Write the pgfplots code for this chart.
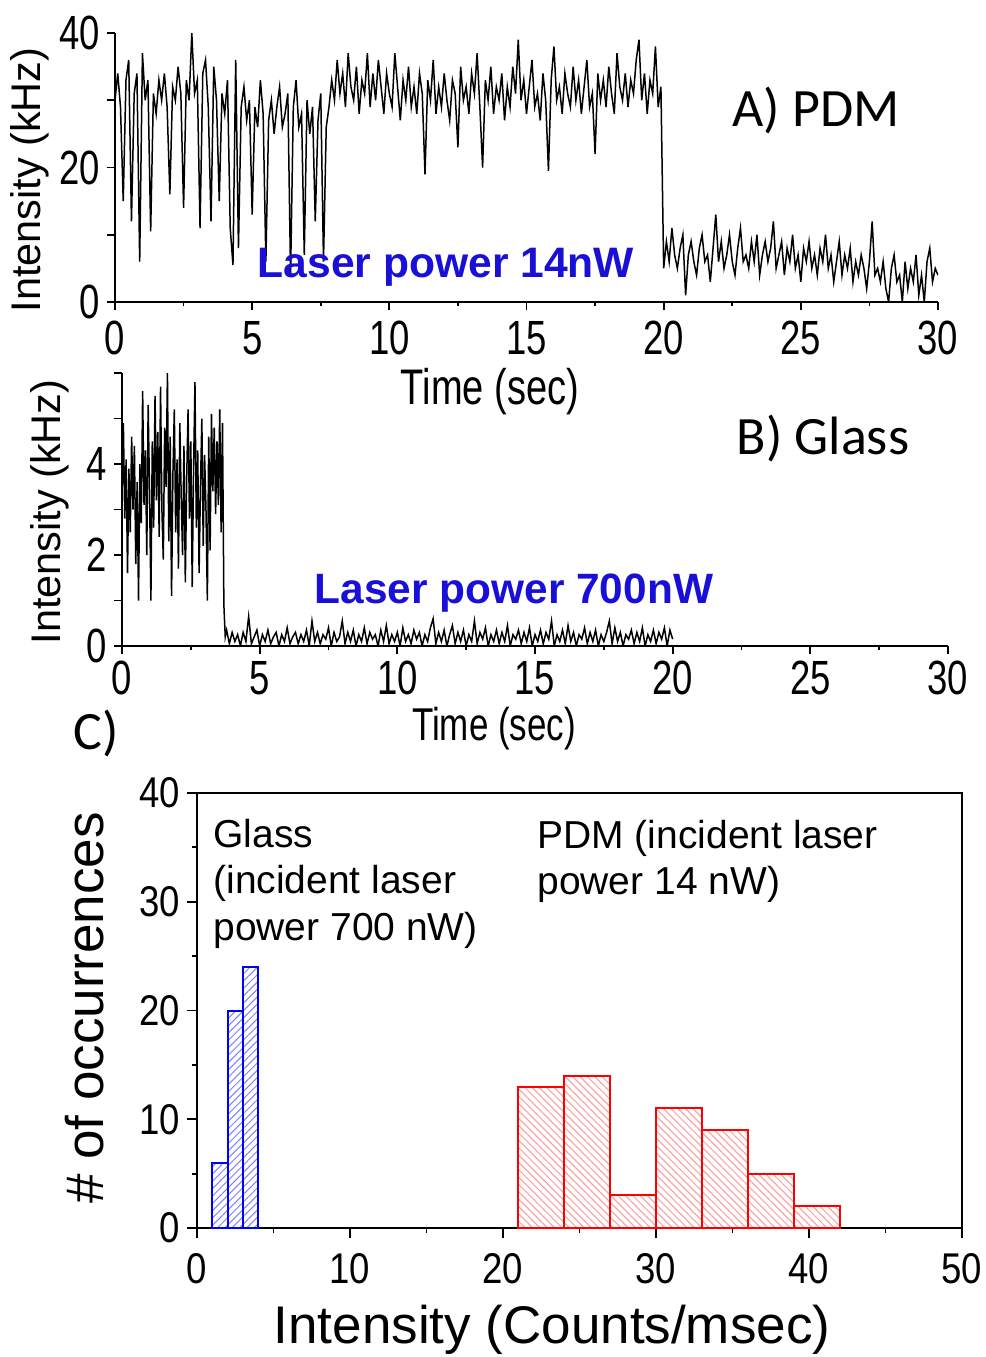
\documentclass[border=0pt]{standalone}
\usepackage{fontspec}
\setmainfont{Liberation Sans}
\newfontfamily\nar[FakeStretch=0.76]{Liberation Sans}
\newfontfamily\narc[FakeStretch=0.85]{Liberation Sans}
\newfontfamily\calfont{Carlito}
\usepackage{pgfplots}
\pgfplotsset{compat=1.18}
\usetikzlibrary{patterns.meta}
\definecolor{lblue}{RGB}{25,15,215}
\newcommand\fs[1]{\fontsize{#1}{#1}\selectfont}
\pgfplotsset{common/.style={scale only axis, anchor=south west,
  axis line style={line width=1pt}, every tick/.style={black,line width=0.9pt},
  major tick length=4pt, minor tick length=2pt, tick align=outside,
  /pgf/number format/assume math mode=true,
  tick label style={font=\nar\fs{24}}}}
\begin{document}
\begin{tikzpicture}
\useasboundingbox (0,0) rectangle (493pt,-678.5pt);
% ---------------- Panel A ----------------
\begin{axis}[common, at={(57.5pt,-151pt)}, width=411.5pt, height=134.5pt,
  xmin=0, xmax=30, ymin=0, ymax=40, axis x line*=bottom, axis y line*=left,
  xtick={0,5,...,30}, minor x tick num=1,
  xticklabel style={yshift=-2pt},
  ytick={0,10,20,30,40}, yticklabels={0,,20,,40}]
\addplot[black, line width=0.75pt] coordinates {
(0.0,30)(0.1,34)(0.2,29)(0.3,15)(0.4,33)(0.5,36)(0.6,12)(0.7,31)(0.8,34)(0.9,6)
(1.0,37)(1.1,30)(1.2,33)(1.3,10.5)(1.4,31)(1.5,28)(1.6,33)(1.7,30)(1.8,34)(1.9,29)
(2.0,16)(2.1,32)(2.2,30)(2.3,35)(2.4,31)(2.5,14)(2.6,33)(2.7,30)(2.8,40)(2.9,31)
(3.0,33)(3.1,11)(3.2,34)(3.3,36)(3.4,29)(3.5,12)(3.6,35)(3.7,30)(3.8,15)(3.9,31)
(4.0,28)(4.1,33)(4.2,11)(4.3,5.5)(4.4,36)(4.5,8)(4.6,29)(4.7,32)(4.8,27)(4.9,30)
(5.0,13)(5.1,29)(5.2,26)(5.3,33)(5.4,28)(5.5,6)(5.6,27)(5.7,30)(5.8,25)(5.9,29)
(6.0,32)(6.1,26)(6.2,28)(6.3,31)(6.4,4)(6.5,29)(6.6,33)(6.7,26)(6.8,28)(6.9,7)
(7.0,30)(7.1,25)(7.2,29)(7.3,12)(7.4,27)(7.5,31)(7.6,6)(7.7,26)(7.8,29)(7.9,33)
(8.0,30)(8.1,36)(8.2,31)(8.3,34)(8.4,29)(8.5,37)(8.6,32)(8.7,30)(8.8,35)(8.9,28)
(9.0,33)(9.1,31)(9.2,37)(9.3,29)(9.4,34)(9.5,30)(9.6,36)(9.7,32)(9.8,28)(9.9,34)
(10.0,31)(10.1,29)(10.2,37)(10.3,32)(10.4,27)(10.5,33)(10.6,30)(10.7,35)(10.8,29)(10.9,32)
(11.0,28)(11.1,34)(11.2,31)(11.3,19)(11.4,33)(11.5,30)(11.6,36)(11.7,28)(11.8,32)(11.9,29)
(12.0,34)(12.1,30)(12.2,27)(12.3,33)(12.4,31)(12.5,23)(12.6,35)(12.7,30)(12.8,32)(12.9,28)
(13.0,34)(13.1,31)(13.2,37)(13.3,29)(13.4,20)(13.5,33)(13.6,30)(13.7,35)(13.8,28)(13.9,32)
(14.0,30)(14.1,34)(14.2,27)(14.3,32)(14.4,29)(14.5,35)(14.6,31)(14.7,39)(14.8,30)(14.9,33)
(15.0,28)(15.1,32)(15.2,36)(15.3,29)(15.4,31)(15.5,27)(15.6,34)(15.7,30)(15.8,19.5)(15.9,33)
(16.0,38)(16.1,30)(16.2,32)(16.3,28)(16.4,34)(16.5,31)(16.6,29)(16.7,35)(16.8,30)(16.9,33)
(17.0,28)(17.1,32)(17.2,36)(17.3,29)(17.4,31)(17.5,22)(17.6,34)(17.7,30)(17.8,33)(17.9,29)
(18.0,35)(18.1,31)(18.2,28)(18.3,37)(18.4,32)(18.5,30)(18.6,34)(18.7,29)(18.8,33)(18.9,31)
(19.0,36)(19.1,39)(19.2,30)(19.3,34)(19.4,28)(19.5,33)(19.6,31)(19.7,38)(19.8,29)(19.9,32)
(20.0,5)(20.1,9)(20.2,6)(20.3,11)(20.4,7)(20.5,5)(20.6,8)(20.7,10)(20.8,1)(20.9,7)
(21.0,9)(21.1,6)(21.2,4)(21.3,8)(21.4,10)(21.5,6)(21.6,7)(21.7,3)(21.8,8)(21.9,13)
(22.0,6)(22.1,9)(22.2,5)(22.3,7)(22.4,10)(22.5,6)(22.6,4)(22.7,8)(22.8,11)(22.9,6)
(23.0,7)(23.1,5)(23.2,9)(23.3,6)(23.4,10)(23.5,4)(23.6,7)(23.7,9)(23.8,6)(23.9,8)
(24.0,12)(24.1,5)(24.2,7)(24.3,9)(24.4,4)(24.5,8)(24.6,6)(24.7,10)(24.8,5)(24.9,7)
(25.0,3)(25.1,8)(25.2,6)(25.3,9)(25.4,5)(25.5,7)(25.6,4)(25.7,8)(25.8,6)(25.9,10)
(26.0,5)(26.1,7)(26.2,3)(26.3,6)(26.4,9)(26.5,4)(26.6,7)(26.7,5)(26.8,8)(26.9,3)
(27.0,6)(27.1,4)(27.2,7)(27.3,5)(27.4,2)(27.5,6)(27.6,12)(27.7,4)(27.8,5)(27.9,3)
(28.0,6)(28.1,2)(28.2,0)(28.3,5)(28.4,7)(28.5,3)(28.6,4)(28.7,0)(28.8,6)(28.9,2)
(29.0,5)(29.1,3)(29.2,7)(29.3,1)(29.4,4)(29.5,0)(29.6,6)(29.7,8)(29.8,3)(29.9,5)
(30.0,4)};
\end{axis}
% ---------------- Panel B ----------------
\begin{axis}[common, at={(61pt,-323pt)}, width=413pt, height=136.5pt,
  xmin=0, xmax=30, ymin=0, ymax=6, axis x line*=bottom, axis y line*=left,
  xtick={0,5,...,30}, minor x tick num=1,
  xticklabel style={yshift=0pt},
  ytick={0,1,2,3,4,5,6}, yticklabels={0,,2,,4,,}]
\addplot[black, line width=0.75pt] coordinates {
(0.00,3.2)(0.05,4.9)(0.10,2.8)(0.15,4.1)(0.20,1.6)(0.25,3.9)(0.30,2.5)(0.35,4.6)(0.40,3.0)(0.45,4.4)
(0.50,1.8)(0.55,3.6)(0.60,1.0)(0.65,4.0)(0.70,2.7)(0.75,5.6)(0.80,3.1)(0.85,4.3)(0.90,2.0)(0.95,5.3)
(1.00,3.4)(1.05,1.0)(1.10,4.5)(1.15,2.6)(1.20,5.5)(1.25,3.2)(1.30,4.7)(1.35,2.4)(1.40,5.7)(1.45,3.0)
(1.50,1.9)(1.55,4.8)(1.60,3.5)(1.65,6.0)(1.70,2.3)(1.75,4.6)(1.80,1.1)(1.85,3.8)(1.90,5.2)(1.95,2.5)
(2.00,4.1)(2.05,1.7)(2.10,4.9)(2.15,3.3)(2.20,2.0)(2.25,4.4)(2.30,1.4)(2.35,3.7)(2.40,5.2)(2.45,2.8)
(2.50,4.5)(2.55,1.3)(2.60,3.9)(2.65,5.8)(2.70,2.6)(2.75,4.3)(2.80,1.6)(2.85,3.5)(2.90,5.0)(2.95,2.2)
(3.00,4.2)(3.05,3.0)(3.10,1.0)(3.15,4.6)(3.20,2.1)(3.25,5.1)(3.30,3.4)(3.35,4.8)(3.40,2.9)(3.45,4.5)
(3.50,3.1)(3.55,5.2)(3.60,2.5)(3.65,4.9)(3.70,0.9)(3.75,0.2)
(3.8,0.35)(3.9,0.05)(4.0,0.30)(4.1,0.10)(4.2,0.25)(4.3,0.00)(4.4,0.30)(4.5,0.10)(4.6,0.65)(4.7,0.05)
(4.8,0.20)(4.9,0.35)(5.0,0.00)(5.1,0.25)(5.2,0.10)(5.3,0.35)(5.4,0.05)(5.5,0.20)(5.6,0.30)(5.7,0.00)
(5.8,0.25)(5.9,0.10)(6.0,0.40)(6.1,0.05)(6.2,0.20)(6.3,0.30)(6.4,0.05)(6.5,0.25)(6.6,0.10)(6.7,0.35)
(6.8,0.00)(6.9,0.55)(7.0,0.10)(7.1,0.30)(7.2,0.05)(7.3,0.25)(7.4,0.15)(7.5,0.40)(7.6,0.00)(7.7,0.30)
(7.8,0.10)(7.9,0.20)(8.0,0.55)(8.1,0.05)(8.2,0.30)(8.3,0.10)(8.4,0.35)(8.5,0.00)(8.6,0.25)(8.7,0.10)
(8.8,0.40)(8.9,0.05)(9.0,0.30)(9.1,0.15)(9.2,0.25)(9.3,0.00)(9.4,0.35)(9.5,0.10)(9.6,0.45)(9.7,0.05)
(9.8,0.25)(9.9,0.10)(10.0,0.30)(10.1,0.00)(10.2,0.40)(10.3,0.10)(10.4,0.25)(10.5,0.05)(10.6,0.35)(10.7,0.15)
(10.8,0.30)(10.9,0.00)(11.0,0.25)(11.1,0.10)(11.2,0.40)(11.3,0.60)(11.4,0.05)(11.5,0.30)(11.6,0.10)(11.7,0.35)
(11.8,0.00)(11.9,0.25)(12.0,0.45)(12.1,0.05)(12.2,0.30)(12.3,0.10)(12.4,0.35)(12.5,0.00)(12.6,0.25)(12.7,0.10)
(12.8,0.55)(12.9,0.05)(13.0,0.30)(13.1,0.15)(13.2,0.40)(13.3,0.00)(13.4,0.25)(13.5,0.10)(13.6,0.35)(13.7,0.05)
(13.8,0.30)(13.9,0.10)(14.0,0.45)(14.1,0.00)(14.2,0.25)(14.3,0.15)(14.4,0.35)(14.5,0.05)(14.6,0.30)(14.7,0.10)
(14.8,0.40)(14.9,0.00)(15.0,0.25)(15.1,0.10)(15.2,0.35)(15.3,0.05)(15.4,0.30)(15.5,0.15)(15.6,0.55)(15.7,0.00)
(15.8,0.25)(15.9,0.10)(16.0,0.35)(16.1,0.05)(16.2,0.45)(16.3,0.10)(16.4,0.30)(16.5,0.00)(16.6,0.25)(16.7,0.15)
(16.8,0.40)(16.9,0.05)(17.0,0.30)(17.1,0.10)(17.2,0.35)(17.3,0.00)(17.4,0.25)(17.5,0.10)(17.6,0.30)(17.7,0.55)
(17.8,0.05)(17.9,0.40)(18.0,0.10)(18.1,0.30)(18.2,0.00)(18.3,0.25)(18.4,0.15)(18.5,0.35)(18.6,0.05)(18.7,0.30)
(18.8,0.10)(18.9,0.40)(19.0,0.00)(19.1,0.25)(19.2,0.10)(19.3,0.35)(19.4,0.05)(19.5,0.30)(19.6,0.15)(19.7,0.40)
(19.8,0.00)(19.9,0.35)(20.0,0.15)};
\end{axis}
% ---------------- Panel C ----------------
\begin{axis}[common, at={(98.5pt,-614pt)}, width=382.5pt, height=217.5pt,
  xmin=0, xmax=50, ymin=0, ymax=40, tick pos=left,
  major tick length=5pt, minor tick length=2.5pt,
  xtick={0,10,...,50}, minor x tick num=1,
  ytick={0,10,...,40}, minor y tick num=1,
  tick label style={font=\narc\fs{21.5}},
  xticklabel style={yshift=-4pt}]
\addplot[ybar interval, draw=blue, line width=1pt,
  pattern={Lines[angle=45,distance=2.6pt,line width=0.5pt]}, pattern color=blue!50]
  coordinates {(1,6)(2,20)(3,24)(4,24)};
\addplot[ybar interval, draw=red, line width=1pt,
  pattern={Lines[angle=-45,distance=2.6pt,line width=0.5pt]}, pattern color=red!40]
  coordinates {(21,13)(24,14)(27,3)(30,11)(33,9)(36,5)(39,2)(42,2)};
\end{axis}
% ---------------- Labels ----------------
\begin{scope}[x=0.5pt,y=-0.5pt]
\node[rotate=90,font=\fs{20.7}] at (30,180) {Intensity (kHz)};
\node[font=\nar\fs{25}] at (490,392) {Time (sec)};
\node[font=\calfont\fs{27}] at (816,110) {A) PDM};
\node[font=\bfseries\fs{21.3},text=lblue] at (446,267) {Laser power 14nW};
\node[rotate=90,font=\fs{20.7}] at (50,512) {Intensity (kHz)};
\node[font=\calfont\fs{27}] at (823,438) {B) Glass};
\node[font=\bfseries\fs{21.2},text=lblue] at (514,593) {Laser power 700nW};
\node[font=\nar\fs{23}] at (494,729) {Time (sec)};
\node[font=\calfont\fs{27}] at (96,733) {C)};
\node[rotate=90,font=\fs{26.5}] at (85,1008) {\# of occurrences};
\node[font=\fs{26.5}] at (552,1330) {Intensity (Counts/msec)};
\node[anchor=base west,inner sep=0,font=\fs{19.5}] at (213,847) {Glass};
\node[anchor=base west,inner sep=0,font=\fs{19.5}] at (213,893) {(incident laser};
\node[anchor=base west,inner sep=0,font=\fs{19.5}] at (213,940) {power 700 nW)};
\node[anchor=base west,inner sep=0,font=\fs{19.5}] at (537,848) {PDM (incident laser};
\node[anchor=base west,inner sep=0,font=\fs{19.5}] at (537,894) {power 14 nW)};
\end{scope}
\end{tikzpicture}
\end{document}
